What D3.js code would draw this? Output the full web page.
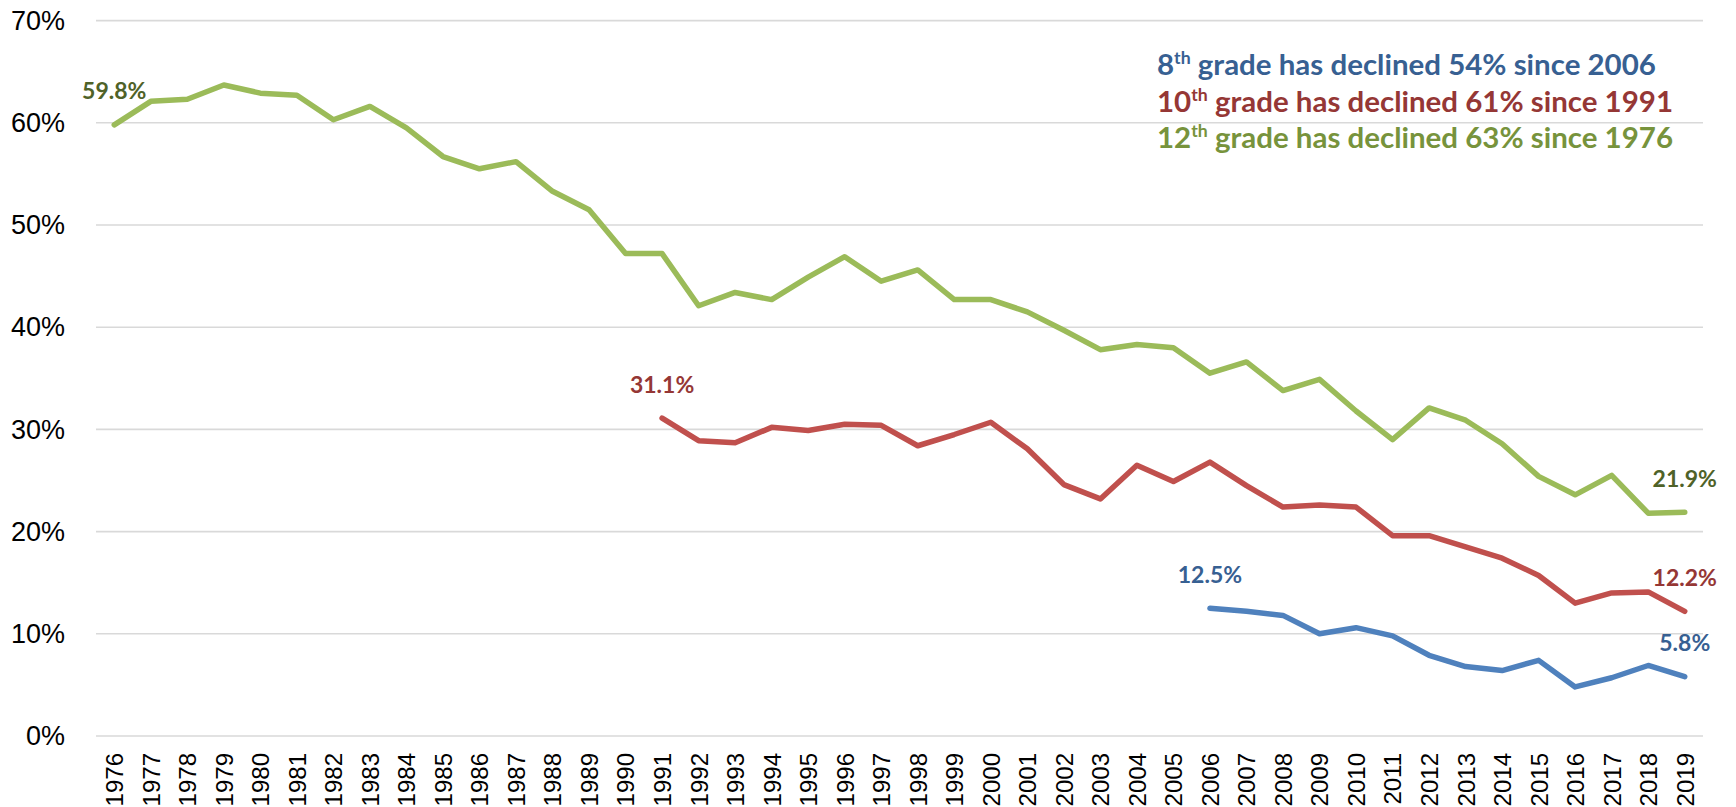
<!DOCTYPE html>
<html>
<head>
<meta charset="utf-8">
<script src="https://cdn.jsdelivr.net/npm/d3@7"></script>
<style>
  html, body { margin: 0; padding: 0; background: #fff; }
  svg { display: block; }
</style>
</head>
<body>
<div id="chart"></div>
<script>
// years on the x axis
const years = [1976, 1977, 1978, 1979, 1980, 1981, 1982, 1983, 1984, 1985, 1986, 1987, 1988, 1989,
  1990, 1991, 1992, 1993, 1994, 1995, 1996, 1997, 1998, 1999, 2000, 2001, 2002, 2003, 2004,
  2005, 2006, 2007, 2008, 2009, 2010, 2011, 2012, 2013, 2014, 2015, 2016, 2017, 2018, 2019];

// percentages, null where the grade was not surveyed
const grade12 = [59.8, 62.1, 62.3, 63.7, 62.9, 62.7, 60.3, 61.6, 59.5, 56.7, 55.5, 56.2, 53.3, 51.5,
  47.2, 47.2, 42.1, 43.4, 42.7, 44.9, 46.9, 44.5, 45.6, 42.7, 42.7, 41.5, 39.7, 37.8, 38.3,
  38.0, 35.5, 36.6, 33.8, 34.9, 31.8, 29.0, 32.1, 30.9, 28.6, 25.4, 23.6, 25.5, 21.8, 21.9];

const grade10 = [null, null, null, null, null, null, null, null, null, null, null, null, null, null,
  null, 31.1, 28.9, 28.7, 30.2, 29.9, 30.5, 30.4, 28.4, 29.5, 30.7, 28.1, 24.6, 23.2, 26.5,
  24.9, 26.8, 24.5, 22.4, 22.6, 22.4, 19.6, 19.6, 18.5, 17.4, 15.7, 13.0, 14.0, 14.1, 12.2];

const grade8 = [null, null, null, null, null, null, null, null, null, null, null, null, null, null,
  null, null, null, null, null, null, null, null, null, null, null, null, null, null, null,
  null, 12.5, 12.2, 11.8, 10.0, 10.6, 9.8, 7.9, 6.8, 6.4, 7.4, 4.8, 5.7, 6.9, 5.8];

const yTicks = [0, 10, 20, 30, 40, 50, 60, 70];

const notes = [
  { grade: '8', rest: ' grade has declined 54% since 2006', color: '#376092' },
  { grade: '10', rest: ' grade has declined 61% since 1991', color: '#953735' },
  { grade: '12', rest: ' grade has declined 63% since 1976', color: '#77933C' }
];

const width = 1736;
const height = 807;
const plotLeft = 96, plotRight = 1703;
const plotTop = 20.6, plotBottom = 736;

const svg = d3.select('#chart')
  .append('svg')
  .attr('width', width)
  .attr('height', height)
  .attr('viewBox', `0 0 ${width} ${height}`);

svg.append('rect').attr('width', width).attr('height', height).attr('fill', '#fff');

const x = d3.scalePoint()
  .domain(years)
  .range([plotLeft, plotRight])
  .padding(0.5);

const y = d3.scaleLinear()
  .domain([0, 70])
  .range([plotBottom, plotTop]);

// gridlines
svg.append('g')
  .selectAll('line')
  .data(yTicks)
  .join('line')
  .attr('x1', plotLeft)
  .attr('x2', plotRight)
  .attr('y1', d => y(d))
  .attr('y2', d => y(d))
  .attr('stroke', '#d9d9d9')
  .attr('stroke-width', 1.6);

// y axis labels
const yAxis = svg.append('g')
  .attr('transform', 'translate(65,0)')
  .call(d3.axisLeft(y).tickValues(yTicks).tickFormat(d => d + '%').tickSize(0).tickPadding(0));
yAxis.select('.domain').remove();
yAxis.selectAll('text')
  .attr('font-family', '"Liberation Sans", Arial, sans-serif')
  .attr('font-size', 27)
  .attr('fill', '#000');

// x axis labels, rotated
const xAxis = svg.append('g')
  .attr('transform', `translate(0,${plotBottom})`)
  .call(d3.axisBottom(x).tickSize(0).tickPadding(0));
xAxis.select('.domain').remove();
xAxis.selectAll('text')
  .attr('font-family', '"Liberation Sans", Arial, sans-serif')
  .attr('font-size', 24)
  .attr('fill', '#000')
  .attr('text-anchor', 'end')
  .attr('transform', 'rotate(-90)')
  .attr('x', -17)
  .attr('y', 0)
  .attr('dy', '0.35em');

// lines
const series = [
  { values: grade12, color: '#9BBB59', label: '#4F6228' },
  { values: grade10, color: '#C0504D', label: '#953735' },
  { values: grade8, color: '#4F81BD', label: '#376092' }
];

const line = d3.line()
  .defined(d => d.v != null)
  .x(d => x(d.year))
  .y(d => y(d.v));

series.forEach(s => {
  const pts = years.map((year, i) => ({ year, v: s.values[i] }));
  svg.append('path')
    .datum(pts)
    .attr('fill', 'none')
    .attr('stroke', s.color)
    .attr('stroke-width', 5.5)
    .attr('stroke-linejoin', 'round')
    .attr('stroke-linecap', 'round')
    .attr('d', line);

  // first and last value labels
  const valid = pts.filter(p => p.v != null);
  [valid[0], valid[valid.length - 1]].forEach(p => {
    svg.append('text')
      .attr('x', x(p.year))
      .attr('y', y(p.v) - 25.5)
      .attr('text-anchor', 'middle')
      .attr('font-family', 'Lato, "Open Sans", sans-serif')
      .attr('font-weight', 'bold')
      .attr('font-size', 23)
      .attr('fill', s.label)
      .text(p.v.toFixed(1) + '%');
  });
});

// annotation block
const noteSize = 26;
const noteGroup = svg.append('g')
  .attr('font-family', 'Lato, "Open Sans", sans-serif')
  .attr('font-weight', 'bold');

const noteTexts = notes.map((n, i) => {
  const t = noteGroup.append('text')
    .attr('x', 1157)
    .attr('y', 75 + i * 36.7)
    .attr('fill', n.color)
    .attr('font-size', noteSize);
  t.append('tspan').text(n.grade);
  t.append('tspan').attr('class', 'sup').attr('font-size', noteSize * 0.6).attr('dy', -noteSize * 0.38).text('th');
  t.append('tspan').attr('dy', noteSize * 0.38).text(n.rest);
  return t;
});

// fit the note size so the first line spans the same width as the reference
const measured = noteTexts[0].node().getComputedTextLength();
const fitSize = noteSize * 499 / measured;
noteTexts.forEach(t => {
  t.attr('font-size', fitSize);
  t.select('.sup').attr('font-size', fitSize * 0.6).attr('dy', -fitSize * 0.38);
  t.select('tspan:last-child').attr('dy', fitSize * 0.38);
});
</script>
</body>
</html>
